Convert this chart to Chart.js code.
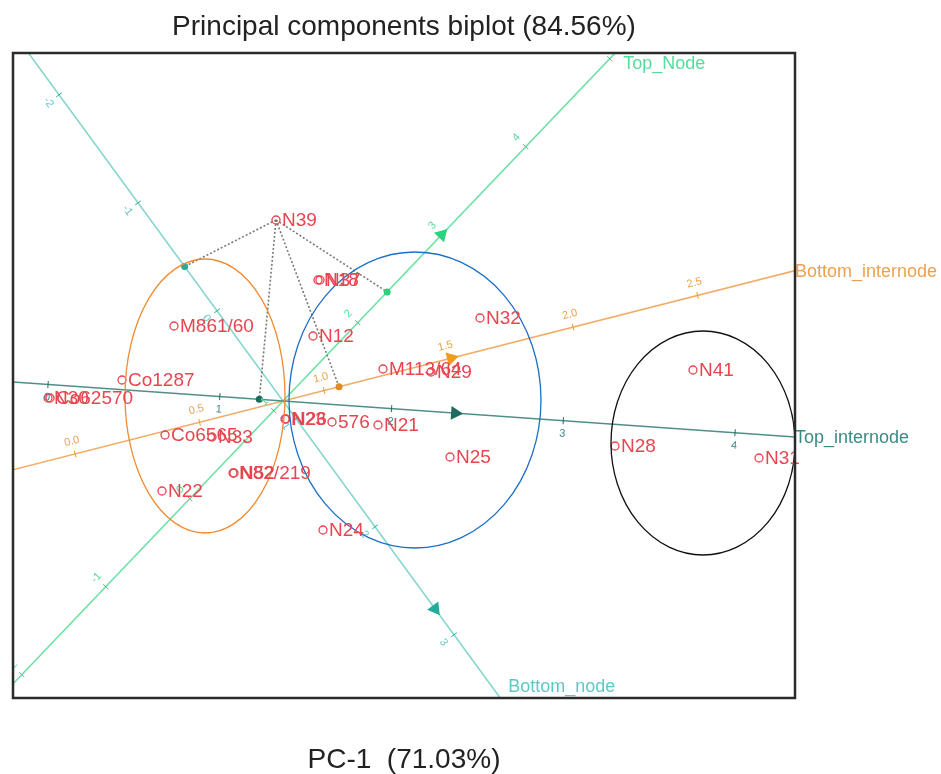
<!DOCTYPE html>
<html>
<head>
<meta charset="utf-8">
<script src="https://cdn.jsdelivr.net/npm/chart.js@4.4.1/dist/chart.umd.min.js"></script>
<style>
  html, body { margin: 0; padding: 0; background: #fff; }
</style>
</head>
<body>
<canvas id="biplot" width="941" height="774"></canvas>
<script>
// genotype scores (PC-1, PC-2)
const genotipos = ['N39', 'N18', 'N37', 'M861/60', 'N12', 'N32', 'M113/64', 'N29', 'Co1287', 'N30', 'Co62570',
  'N23', 'N26', '576', 'N21', 'N25', 'N41', 'N28', 'N31', 'Co6565', 'N33', 'N82/219', 'N52', 'N22', 'N24'];
const pc1 = [-0.07, 0.35, 0.37, -1.09, 0.30, 1.97, 1.00, 1.48, -1.61, -2.35, -2.33,
  0.02, 0.03, 0.49, 0.95, 1.67, 4.10, 3.32, 4.76, -1.18, -0.71, -0.50, -0.49, -1.21, 0.40];
const pc2 = [1.81, 1.21, 1.21, 0.75, 0.65, 0.83, 0.32, 0.29, 0.21, 0.03, 0.03,
  -0.18, -0.18, -0.21, -0.24, -0.56, 0.31, -0.45, -0.57, -0.34, -0.36, -0.72, -0.72, -0.90, -1.29];

// variable axes: shift in (PC-1, PC-2) for one unit of the variable, value at the origin
const variaveis = ['Top_internode', 'Bottom_internode', 'Top_Node', 'Bottom_node'];
const passoX = [1.7175, 2.49, 0.84, 0.79];
const passoY = [-0.1207, 0.634, 0.88, -1.08];
const medias = [1.368, 0.835, 1.11, 0.835];
const marcas = [[0, 1, 2, 3, 4], [0, 0.5, 1, 1.5, 2, 2.5], [-2, -1, 0, 1, 2, 3, 4, 5], [-2, -1, 0, 1, 2, 3]];
const casas = [0, 1, 0, 0];
const setas = [2.37, 1.51, 3.0, 2.76];

// predicted values of N39 on each axis
const previstoN39 = [1.23, 1.06, 2.35, -0.41];

// grouping ellipses (centre and radii in PC units)
const grupoCx = [-0.78, 1.32, 4.20];
const grupoCy = [0.05, 0.01, -0.42];
const grupoRx = [0.80, 1.26, 0.92];
const grupoRy = [1.37, 1.48, 1.12];

const cores = {
  linha: ['#4f8f8a', '#f3ac66', '#6fe0a6', '#86d6ce'],
  seta: ['#1c6b5e', '#f39a1c', '#28d47c', '#20ad9c'],
  ponto: ['#1c6b5e', '#e08a24', '#2fcf7a', '#2aa898'],
  rotulo: ['#3c8a86', '#eca24c', '#58dc9c', '#5ec8c6'],
  grupo: ['#f28b30', '#1c6fc6', '#111111'],
  genotipo: '#e8454f'
};
const ladoRotulo = [1, -1, -1, 1];
const fonte = '"Liberation Sans", Arial, sans-serif';

const emValor = (i, v) => ({ x: (v - medias[i]) * passoX[i], y: (v - medias[i]) * passoY[i] });
const anguloPix = i => Math.atan2(-passoY[i], passoX[i]) * 180 / Math.PI;
const iN39 = genotipos.indexOf('N39');

const datasets = [];
datasets.push({
  data: genotipos.map((g, i) => ({ x: pc1[i], y: pc2[i] })),
  pointRadius: 4, pointBorderWidth: 1.3,
  pointBorderColor: cores.genotipo, pointBackgroundColor: 'rgba(0,0,0,0)'
});
datasets.push({
  data: variaveis.map((n, i) => emValor(i, setas[i])),
  pointStyle: 'triangle', pointRadius: 8, pointBorderWidth: 0,
  pointRotation: variaveis.map((n, i) => anguloPix(i) + 90),
  pointBackgroundColor: cores.seta, pointBorderColor: cores.seta
});
datasets.push({
  data: variaveis.map((n, i) => emValor(i, previstoN39[i])),
  pointRadius: 3.5, pointBorderWidth: 0,
  pointBackgroundColor: cores.ponto, pointBorderColor: cores.ponto
});
variaveis.forEach((n, i) => {
  datasets.push({
    data: [{ x: pc1[iN39], y: pc2[iN39] }, emValor(i, previstoN39[i])],
    showLine: true, pointRadius: 0, borderColor: '#7a7a7a', borderWidth: 1.6, borderDash: [2, 2]
  });
});
variaveis.forEach((n, i) => {
  datasets.push({
    data: [emValor(i, medias[i] - 40), emValor(i, medias[i] + 40)],
    showLine: true, pointRadius: 0, borderColor: cores.linha[i], borderWidth: 1.6
  });
});

const extras = {
  id: 'extras',
  afterDatasetsDraw(chart) {
    const { ctx, chartArea: a, scales: { x, y } } = chart;
    const px = v => x.getPixelForValue(v), py = v => y.getPixelForValue(v);
    ctx.save();
    ctx.beginPath();
    ctx.rect(a.left, a.top, a.width, a.height);
    ctx.clip();
    // tick marks and tick labels along each variable axis
    variaveis.forEach((nome, i) => {
      const len = Math.hypot(passoX[i], passoY[i]);
      const ux = passoX[i] / len, uy = -passoY[i] / len;
      const nx = -uy, ny = ux;
      let ang = Math.atan2(uy, ux);
      if (ang > Math.PI / 2) ang -= Math.PI;
      if (ang < -Math.PI / 2) ang += Math.PI;
      marcas[i].forEach(v => {
        const p = emValor(i, v);
        const X = px(p.x), Y = py(p.y);
        ctx.strokeStyle = cores.seta[i];
        ctx.lineWidth = 1;
        ctx.beginPath();
        ctx.moveTo(X - nx * 3.5, Y - ny * 3.5);
        ctx.lineTo(X + nx * 3.5, Y + ny * 3.5);
        ctx.stroke();
        const d = 13 * ladoRotulo[i];
        ctx.save();
        ctx.translate(X + nx * d, Y + ny * d);
        ctx.rotate(ang);
        ctx.fillStyle = cores.rotulo[i];
        ctx.font = '11px ' + fonte;
        ctx.textAlign = 'center';
        ctx.textBaseline = 'middle';
        ctx.fillText(v.toFixed(casas[i]), 0, 0);
        ctx.restore();
      });
    });
    // grouping ellipses
    grupoCx.forEach((cx, k) => {
      ctx.strokeStyle = cores.grupo[k];
      ctx.lineWidth = 1.3;
      ctx.beginPath();
      ctx.ellipse(px(cx), py(grupoCy[k]), Math.abs(px(grupoRx[k]) - px(0)),
        Math.abs(py(0) - py(grupoRy[k])), 0, 0, Math.PI * 2);
      ctx.stroke();
    });
    ctx.restore();

    ctx.save();
    // variable names at the positive end of each axis
    const ox = px(0), oy = py(0);
    variaveis.forEach((nome, i) => {
      const dx = px(passoX[i]) - ox, dy = py(passoY[i]) - oy;
      const ts = [];
      if (dx > 0) ts.push([(a.right - ox) / dx, 'r']);
      if (dx < 0) ts.push([(a.left - ox) / dx, 'l']);
      if (dy < 0) ts.push([(a.top - oy) / dy, 't']);
      if (dy > 0) ts.push([(a.bottom - oy) / dy, 'b']);
      ts.sort((m, n) => m[0] - n[0]);
      const [t, borda] = ts[0];
      let X = ox + dx * t, Y = oy + dy * t;
      if (borda === 't') { X += 8; Y += 11; }
      if (borda === 'b') { X += 8; Y -= 11; }
      if (borda === 'r') { X += 0; Y += 1; }
      ctx.fillStyle = cores.rotulo[i];
      ctx.font = '18px ' + fonte;
      ctx.textAlign = 'left';
      ctx.textBaseline = 'middle';
      ctx.fillText(nome, X, Y);
    });
    // genotype labels
    ctx.fillStyle = cores.genotipo;
    ctx.font = '19px ' + fonte;
    ctx.textAlign = 'left';
    ctx.textBaseline = 'middle';
    genotipos.forEach((g, i) => {
      ctx.fillText(g, px(pc1[i]) + 6, py(pc2[i]) + 1);
    });
    // plot frame
    ctx.strokeStyle = '#2b2b2b';
    ctx.lineWidth = 2.5;
    ctx.strokeRect(a.left, a.top, a.width, a.height);
    ctx.restore();
  }
};

new Chart(document.getElementById('biplot'), {
  type: 'scatter',
  data: { datasets: datasets },
  plugins: [extras],
  options: {
    responsive: false,
    animation: false,
    layout: { padding: { left: 13, right: 146, top: 0, bottom: 0 } },
    plugins: {
      legend: { display: false },
      tooltip: { enabled: false },
      title: {
        display: true,
        text: 'Principal components biplot (84.56%)',
        color: '#222',
        font: { size: 28, weight: 'normal', family: fonte, lineHeight: 1.2 },
        padding: { top: 10, bottom: 9.4 }
      }
    },
    scales: {
      x: {
        min: -2.70, max: 5.12,
        ticks: { display: false },
        grid: { display: false, drawTicks: false },
        border: { display: false },
        title: {
          display: true,
          text: 'PC-1  (71.03%)',
          color: '#222',
          font: { size: 28, family: fonte, lineHeight: 1 },
          padding: { top: 48, bottom: 0 }
        }
      },
      y: {
        display: false,
        min: -2.97, max: 3.48
      }
    }
  }
});
</script>
</body>
</html>
